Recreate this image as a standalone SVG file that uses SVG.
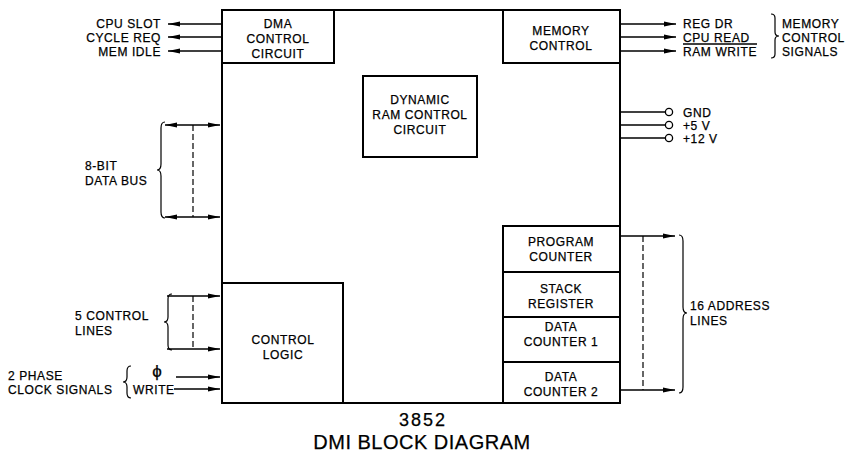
<svg xmlns="http://www.w3.org/2000/svg" width="848" height="456" viewBox="0 0 848 456">
<defs>
<marker id="ah" viewBox="0 0 12 6" refX="12" refY="3" markerWidth="12" markerHeight="6" markerUnits="userSpaceOnUse" orient="auto-start-reverse">
<path d="M0,0.5 L12,3 L0,5.5 Z" fill="#000"/>
</marker>
<style>
.box{fill:#fff;stroke:#000;stroke-width:2}
.ln{fill:none;stroke:#000;stroke-width:1.3}
.dash{fill:none;stroke:#000;stroke-width:1.2;stroke-dasharray:6 3}
.br{fill:none;stroke:#000;stroke-width:1.2}
text{font-family:"Liberation Sans",Arial,sans-serif;font-size:12px;letter-spacing:0.6px;fill:#000;stroke:#000;stroke-width:0.25}
.c{text-anchor:middle}
.r{text-anchor:end}
</style>
</defs>
<rect width="848" height="456" fill="#fff"/>

<g id="main"><rect class="box" x="222" y="10" width="398" height="393"/></g>

<g id="dma">
<rect class="box" x="222" y="10" width="112" height="53"/>
<text class="c" x="278" y="28">DMA</text>
<text class="c" x="278" y="43">CONTROL</text>
<text class="c" x="278" y="58">CIRCUIT</text>
</g>
<g id="memctl">
<rect class="box" x="503" y="10" width="117" height="53"/>
<text class="c" x="561" y="35">MEMORY</text>
<text class="c" x="561" y="50">CONTROL</text>
</g>
<g id="dram">
<rect class="box" x="363" y="76" width="114" height="81"/>
<text class="c" x="420" y="104">DYNAMIC</text>
<text class="c" x="420" y="119">RAM CONTROL</text>
<text class="c" x="420" y="134">CIRCUIT</text>
</g>
<g id="ctllogic">
<rect class="box" x="222" y="283" width="121" height="120"/>
<text class="c" x="283" y="344">CONTROL</text>
<text class="c" x="283" y="359">LOGIC</text>
</g>
<g id="pc">
<rect class="box" x="503" y="226" width="117" height="46"/>
<text class="c" x="561" y="246">PROGRAM</text>
<text class="c" x="561" y="261">COUNTER</text>
</g>
<g id="sr">
<rect class="box" x="503" y="272" width="117" height="45"/>
<text class="c" x="561" y="293">STACK</text>
<text class="c" x="561" y="308">REGISTER</text>
</g>
<g id="dc1">
<rect class="box" x="503" y="317" width="117" height="45"/>
<text class="c" x="561" y="331">DATA</text>
<text class="c" x="561" y="346">COUNTER 1</text>
</g>
<g id="dc2">
<rect class="box" x="503" y="362" width="117" height="41"/>
<text class="c" x="561" y="381">DATA</text>
<text class="c" x="561" y="396">COUNTER 2</text>
</g>

<g id="connectors">
<line class="ln" x1="222" y1="24" x2="168" y2="24" marker-end="url(#ah)"/>
<line class="ln" x1="222" y1="37" x2="168" y2="37" marker-end="url(#ah)"/>
<line class="ln" x1="222" y1="51" x2="168" y2="51" marker-end="url(#ah)"/>
<line class="ln" x1="620" y1="24" x2="676" y2="24" marker-end="url(#ah)"/>
<line class="ln" x1="620" y1="37" x2="676" y2="37" marker-end="url(#ah)"/>
<line class="ln" x1="620" y1="51" x2="676" y2="51" marker-end="url(#ah)"/>
<line class="ln" x1="620" y1="112" x2="665" y2="112"/>
<line class="ln" x1="620" y1="125" x2="665" y2="125"/>
<line class="ln" x1="620" y1="138" x2="665" y2="138"/>
<circle class="ln" cx="669" cy="112" r="3.6"/>
<circle class="ln" cx="669" cy="125" r="3.6"/>
<circle class="ln" cx="669" cy="138" r="3.6"/>
<line class="ln" x1="165" y1="125" x2="220" y2="125" marker-start="url(#ah)" marker-end="url(#ah)"/>
<line class="ln" x1="165" y1="217" x2="220" y2="217" marker-start="url(#ah)" marker-end="url(#ah)"/>
<line class="dash" x1="193" y1="125" x2="193" y2="217"/>
<line class="ln" x1="167" y1="296" x2="220" y2="296" marker-end="url(#ah)"/>
<line class="ln" x1="167" y1="349" x2="220" y2="349" marker-end="url(#ah)"/>
<line class="dash" x1="193" y1="296" x2="193" y2="349"/>
<line class="ln" x1="176" y1="377" x2="220" y2="377" marker-end="url(#ah)"/>
<line class="ln" x1="174" y1="389" x2="220" y2="389" marker-end="url(#ah)"/>
<line class="ln" x1="620" y1="236" x2="675" y2="236" marker-end="url(#ah)"/>
<line class="ln" x1="620" y1="390" x2="675" y2="390" marker-end="url(#ah)"/>
<line class="dash" x1="643" y1="236" x2="643" y2="390"/>
</g>

<g id="braces">
<path class="br" d="M771,14 Q775,14 775,18 L775,32 Q775,36 779,36 Q775,36 775,40 L775,54 Q775,58 771,58"/>
<path class="br" d="M679,235 Q683,235 683,241 L683,307 Q683,313 687,313 Q683,313 683,319 L683,387 Q683,393 679,393"/>
<path class="br" d="M165,122 Q161,122 161,128 L161,164 Q161,170 157,170 Q161,170 161,176 L161,212 Q161,218 165,218"/>
<path class="br" d="M172,294 Q168,294 168,299 L168,317 Q168,322 164,322 Q168,322 168,327 L168,345 Q168,350 172,350"/>
<path class="br" d="M131,366 Q127,366 127,371 L127,377 Q127,382 123,382 Q127,382 127,387 L127,393 Q127,398 131,398"/>
</g>

<g id="labels">
<text class="r" x="161" y="28">CPU SLOT</text>
<text class="r" x="161" y="41.5">CYCLE REQ</text>
<text class="r" x="161" y="55.5">MEM IDLE</text>
<text x="683" y="28">REG DR</text>
<text x="683" y="41.5">CPU READ</text>
<text x="683" y="55.5">RAM WRITE</text>
<line class="ln" x1="683" y1="44" x2="757" y2="44" stroke-width="1"/>
<text x="782" y="28">MEMORY</text>
<text x="782" y="42">CONTROL</text>
<text x="782" y="56">SIGNALS</text>
<text x="683" y="116.5">GND</text>
<text x="683" y="129.5">+5 V</text>
<text x="683" y="142.5">+12 V</text>
<text x="85" y="170">8-BIT</text>
<text x="85" y="185">DATA BUS</text>
<text x="75" y="320">5 CONTROL</text>
<text x="75" y="335">LINES</text>
<text x="8" y="380">2 PHASE</text>
<text x="8" y="394">CLOCK SIGNALS</text>
<text class="c" x="157" y="377" style="font-size:17px;letter-spacing:0">ϕ</text>
<text x="133" y="394">WRITE</text>
<text x="690" y="310">16 ADDRESS</text>
<text x="690" y="325">LINES</text>
<text class="c" x="423" y="426" style="font-size:18px;letter-spacing:2px">3852</text>
<text class="c" x="422" y="449" style="font-size:20px;letter-spacing:0.5px">DMI BLOCK DIAGRAM</text>
</g>
</svg>
